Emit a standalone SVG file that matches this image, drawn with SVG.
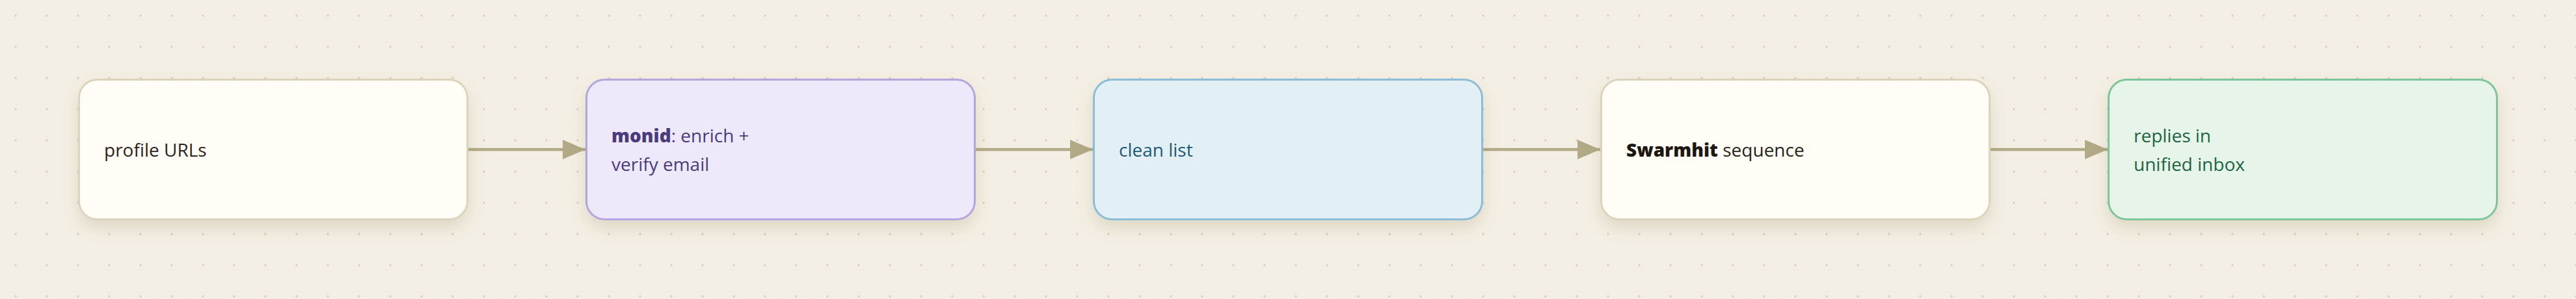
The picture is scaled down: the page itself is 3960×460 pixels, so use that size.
<svg xmlns="http://www.w3.org/2000/svg" width="3960" height="460" viewBox="0 0 3960 460">
  <defs>
    <pattern id="dots" x="0" y="0" width="48" height="48" patternUnits="userSpaceOnUse">
      <circle cx="24" cy="24" r="2" fill="#ddd6c5"/>
    </pattern>
    <filter id="shadow" x="-10%" y="-20%" width="120%" height="160%">
      <feDropShadow dx="0" dy="12" stdDeviation="12" flood-color="#7a6a40" flood-opacity="0.18"/>
    </filter>
    <marker id="arrow" markerUnits="userSpaceOnUse" markerWidth="35" markerHeight="30" refX="35" refY="15" orient="auto">
      <path d="M0,0 L35,15 L0,30 Z" fill="#b2a987"/>
    </marker>
    <style>
      .box { stroke-width: 3; filter: url(#shadow); }
      .neutral { fill: #fffdf6; stroke: #ddd3bc; }
      .purple { fill: #eee9fa; stroke: #b5a5df; }
      .blue { fill: #e2f0f5; stroke: #8cbdd7; }
      .green { fill: #e6f4ea; stroke: #7ec59a; }
      text { font-family: "Open Sans", "Noto Sans", sans-serif; font-size: 28px; }
      .t-neutral { fill: #2a241b; }
      .t-purple { fill: #4a3b7c; }
      .t-blue { fill: #215a76; }
      .t-green { fill: #1f6442; }
      .b { font-weight: 800; }
      .conn { stroke: #b2a987; stroke-width: 4.5; fill: none; marker-end: url(#arrow); }
    </style>
  </defs>
  <rect width="3960" height="460" fill="#f3efe4"/>
  <rect width="3960" height="460" fill="url(#dots)"/>

  <g id="connectors">
    <line class="conn" x1="720" y1="230" x2="900" y2="230"/>
    <line class="conn" x1="1500" y1="230" x2="1680" y2="230"/>
    <line class="conn" x1="2280" y1="230" x2="2460" y2="230"/>
    <line class="conn" x1="3060" y1="230" x2="3240" y2="230"/>
  </g>

  <g id="node-profile-urls">
    <rect class="box neutral" x="121.5" y="122.5" width="597" height="215" rx="28"/>
    <text class="t-neutral" x="160" y="241">profile URLs</text>
  </g>

  <g id="node-monid">
    <rect class="box purple" x="901.5" y="122.5" width="597" height="215" rx="28"/>
    <text class="t-purple" x="940" y="219"><tspan class="b">monid</tspan>: enrich +</text>
    <text class="t-purple" x="940" y="263">verify email</text>
  </g>

  <g id="node-clean-list">
    <rect class="box blue" x="1681.5" y="122.5" width="597" height="215" rx="28"/>
    <text class="t-blue" x="1720" y="241">clean list</text>
  </g>

  <g id="node-swarmhit">
    <rect class="box neutral" x="2461.5" y="122.5" width="597" height="215" rx="28"/>
    <text class="t-neutral" x="2500" y="241"><tspan class="b" fill="#1c1710">Swarmhit</tspan> sequence</text>
  </g>

  <g id="node-replies">
    <rect class="box green" x="3241.5" y="122.5" width="597" height="215" rx="28"/>
    <text class="t-green" x="3280" y="219">replies in</text>
    <text class="t-green" x="3280" y="263">unified inbox</text>
  </g>
</svg>
